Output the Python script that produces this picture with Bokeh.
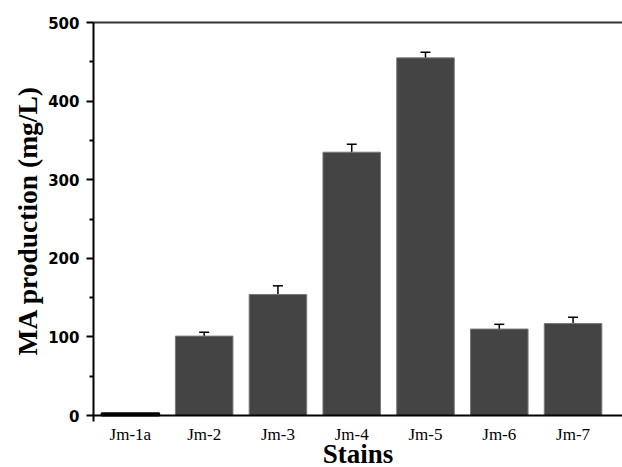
from bokeh.plotting import figure
from bokeh.models import Range1d, LinearAxis, FixedTicker, Whisker, ColumnDataSource, TeeHead, Title
from bokeh.embed import file_html
from bokeh.resources import INLINE

categories = ["Jm-1a", "Jm-2", "Jm-3", "Jm-4", "Jm-5", "Jm-6", "Jm-7"]
values = [3, 101, 154, 335, 455, 110, 117]
errors = [0, 5, 11, 10, 7, 6, 8]
bar_colors = ["#000000", "#444444", "#444444", "#444444", "#444444", "#444444", "#444444"]
line_colors = ["#000000", "#7a7a7a", "#7a7a7a", "#7a7a7a", "#7a7a7a", "#7a7a7a", "#7a7a7a"]
line_widths = [2, 1, 1, 1, 1, 1, 1]
y_ticks = [0, 100, 200, 300, 400, 500]
y_minor = [50, 150, 250, 350, 450]
x_title = "Stains"
y_title = "MA production (mg/L)"

# layout geometry (pixels): plot top at 22, zero line at 415, canvas bottom at 467
TOP_PX, ZERO_PX, H = 22, 415, 467
y_max = 500
y_min = -(H - ZERO_PX) / (ZERO_PX - TOP_PX) * y_max

xs = list(range(len(categories)))
src = ColumnDataSource(dict(x=xs, top=values, color=bar_colors, lc=line_colors, lw=line_widths))
err_src = ColumnDataSource(dict(
    x=xs[1:],
    upper=[v + e for v, e in zip(values[1:], errors[1:])],
    lower=[v - e for v, e in zip(values[1:], errors[1:])],
))

p = figure(width=622, height=H, output_backend="svg", toolbar_location=None,
           x_range=Range1d(-0.5, 6.67), y_range=Range1d(y_min, y_max),
           min_border_left=93, min_border_right=0, min_border_top=TOP_PX, min_border_bottom=0)
p.outline_line_color = None
p.grid.visible = False
p.background_fill_color = "white"

p.vbar(x="x", top="top", bottom=0, width=0.78, source=src, fill_color="color", line_color="lc", line_width="lw")
w = Whisker(base="x", upper="upper", lower="lower", source=err_src, line_color="black", line_width=1.5,
            upper_head=TeeHead(size=10, line_color="black", line_width=1.5),
            lower_head=TeeHead(size=10, line_color="black", line_width=1.5))
p.add_layout(w)

# y axis
ya = p.yaxis[0]
ya.ticker = FixedTicker(ticks=y_ticks, minor_ticks=y_minor)
ya.bounds = (-7, y_max)
ya.major_label_text_font = "DejaVu Sans"
ya.major_label_text_font_style = "bold"
ya.major_label_text_font_size = "15px"
ya.major_label_text_color = "black"
ya.axis_line_width = 2
ya.axis_line_color = "black"
ya.major_tick_line_width = 2
ya.minor_tick_line_width = 2
ya.major_tick_out = 7
ya.major_tick_in = 0
ya.minor_tick_out = 4
ya.minor_tick_in = 0
ya.major_label_standoff = 7

# y title as a side title, centred on the 0..500 part of the axis
p.add_layout(Title(text=y_title, align="right", offset=63, standoff=6,
                   text_font="Liberation Serif", text_font_style="bold",
                   text_font_size="27.5px", text_color="black"), "left")

# x axis, fixed at y = 0
xa = p.xaxis[0]
xa.fixed_location = 0
xa.ticker = FixedTicker(ticks=xs)
xa.major_label_overrides = {i: c for i, c in zip(xs, categories)}
xa.axis_label = x_title
xa.axis_label_text_font = "Liberation Serif"
xa.axis_label_text_font_style = "bold"
xa.axis_label_text_font_size = "27px"
xa.axis_label_text_color = "black"
xa.axis_label_standoff = -8
xa.major_label_text_font = "Liberation Serif"
xa.major_label_text_font_size = "17px"
xa.major_label_text_color = "black"
xa.major_label_standoff = 3
xa.axis_line_width = 2
xa.axis_line_color = "black"
xa.major_tick_line_color = None
xa.minor_tick_line_color = None

top = LinearAxis(ticker=FixedTicker(ticks=[]), major_label_text_font_size="0px",
                 axis_line_width=2, axis_line_color="#333333",
                 major_tick_line_color=None, minor_tick_line_color=None)
p.add_layout(top, "above")

open("out.html", "w").write(file_html(p, INLINE))
